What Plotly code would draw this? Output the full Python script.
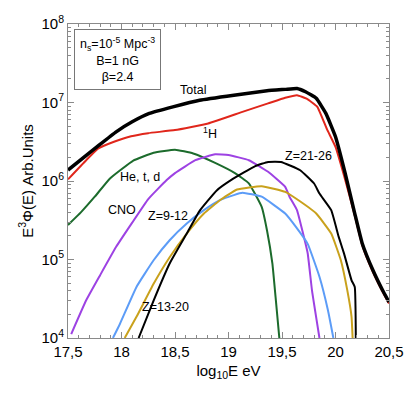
import plotly.graph_objects as go

# (x = log10 E, y = E^3 Phi in arb. units)
total_x = [17.5, 17.79, 17.95, 18.10, 18.26, 18.48, 18.73, 19.05, 19.36, 19.53, 19.64, 19.72,
           19.82, 19.91, 20.0, 20.09, 20.18, 20.25, 20.35, 20.44, 20.5]
total_y = [1.38e6, 2.86e6, 4.23e6, 5.68e6, 7.26e6, 8.81e6, 1.07e7, 1.24e7, 1.41e7, 1.47e7, 1.51e7, 1.37e7,
           1.13e7, 7.26e6, 3.66e6, 1.26e6, 3.85e5, 1.60e5, 7.28e4, 4.05e4, 2.87e4]

h_x = [17.5, 17.67, 17.78, 17.93, 18.09, 18.25, 18.5, 18.81, 19.13, 19.37, 19.53, 19.64, 19.73,
       19.83, 19.92, 20.0, 20.08, 20.18, 20.25, 20.35, 20.44, 20.5]
h_y = [1.05e6, 1.84e6, 2.59e6, 3.16e6, 3.72e6, 4.07e6, 4.45e6, 5.41e6, 7.60e6, 9.75e6, 1.15e7, 1.24e7, 1.12e7,
       8.81e6, 4.57e6, 2.72e6, 1.17e6, 3.63e5, 1.51e5, 6.92e4, 3.89e4, 2.75e4]

he_x = [17.5, 17.62, 17.75, 17.89, 18.0, 18.11, 18.3, 18.5, 18.67, 18.875, 19.06, 19.19, 19.31,
        19.36, 19.41, 19.44, 19.475]
he_y = [2.75e5, 3.98e5, 6.31e5, 1.07e6, 1.41e6, 1.82e6, 2.29e6, 2.51e6, 2.24e6, 1.70e6, 1.26e6, 9.33e5, 4.68e5,
        2.34e5, 8.91e4, 3.31e4, 1.0e4]

cno_x = [17.53, 17.67, 17.8, 17.95, 18.1, 18.25, 18.42, 18.5, 18.69, 18.875, 19.0, 19.19, 19.37,
         19.53, 19.57, 19.64, 19.69, 19.74, 19.78, 19.85]
cno_y = [1.12e4, 3.02e4, 6.31e4, 1.45e5, 2.95e5, 5.89e5, 1.02e6, 1.26e6, 1.84e6, 2.19e6, 2.14e6, 1.84e6, 1.31e6,
         8.41e5, 6.31e5, 4.27e5, 2.34e5, 1.20e5, 4.07e4, 1.0e4]

z912_x = [17.92, 17.985, 18.14, 18.30, 18.45, 18.61, 18.77, 18.92, 19.05, 19.13, 19.31, 19.53, 19.63, 19.74,
          19.85, 19.93, 19.98]
z912_y = [1.0e4, 1.51e4, 4.47e4, 9.77e4, 1.76e5, 2.87e5, 4.25e5, 5.69e5, 6.61e5, 7.08e5, 6.31e5, 3.85e5, 2.60e5,
          1.58e5, 6.03e4, 2.24e4, 1.0e4]

z1320_x = [18.03, 18.14, 18.30, 18.45, 18.61, 18.77, 18.92, 19.08, 19.31, 19.53, 19.63, 19.82, 19.96,
           20.05, 20.11, 20.15, 20.16]
z1320_y = [1.0e4, 1.86e4, 4.90e4, 1.07e5, 2.14e5, 3.85e5, 5.69e5, 7.80e5, 8.59e5, 7.26e5, 5.98e5, 3.85e5, 2.14e5,
           9.77e4, 4.07e4, 1.86e4, 1.0e4]

z2126_x = [18.16, 18.30, 18.45, 18.61, 18.73, 18.89, 19.03, 19.25, 19.37, 19.49, 19.67, 19.80,
           19.85, 19.96, 20.03, 20.08, 20.15, 20.18, 20.19]
z2126_y = [1.0e4, 3.0e4, 8.9e4, 2.14e5, 4.17e5, 7.59e5, 1.04e6, 1.55e6, 1.75e6, 1.75e6, 1.37e6, 9.29e5,
           6.92e5, 4.25e5, 1.94e5, 1.19e5, 5.43e4, 4.47e4, 9.0e3]

x_tickvals = [17.5, 18, 18.5, 19, 19.5, 20, 20.5]
x_ticktext = ["17,5", "18", "18,5", "19", "19,5", "20", "20,5"]
y_tickvals = [1e4, 1e5, 1e6, 1e7, 1e8]
y_ticktext = ["10<sup>4</sup>", "10<sup>5</sup>", "10<sup>6</sup>", "10<sup>7</sup>", "10<sup>8</sup>"]


def curve(x, y, color, width):
    return go.Scatter(x=x, y=y, mode="lines", line=dict(color=color, width=width, shape="spline", smoothing=0.35),
                      showlegend=False, hoverinfo="skip")


fig = go.Figure()
fig.add_trace(curve(he_x, he_y, "#1c6b2c", 2))
fig.add_trace(curve(cno_x, cno_y, "#9d42e3", 2))
fig.add_trace(curve(z912_x, z912_y, "#5c9cf7", 2))
fig.add_trace(curve(z1320_x, z1320_y, "#c9a11c", 2))
fig.add_trace(curve(z2126_x, z2126_y, "#000000", 2))
fig.add_trace(curve(h_x, h_y, "#e0261b", 2))
fig.add_trace(curve(total_x, total_y, "#000000", 3.5))

labels = [
    (18.67, 7.16, "Total"),
    (18.83, 6.61, "<sup>1</sup>H"),
    (18.17, 6.05, "He, t, d"),
    (18.0, 5.63, "CNO"),
    (18.43, 5.56, "Z=9-12"),
    (18.41, 4.39, "Z=13-20"),
    (19.75, 6.32, "Z=21-26"),
]
for lx, ly, txt in labels:
    fig.add_annotation(x=lx, y=ly, text=txt, showarrow=False, font=dict(size=12.5, color="black"))

fig.add_annotation(
    xref="paper", yref="paper", x=0.019, y=0.984, xanchor="left", yanchor="top",
    text="n<sub>s</sub>=10<sup>-5</sup> Mpc<sup>-3</sup><br>B=1 nG<br>β=2.4",
    showarrow=False, align="center", font=dict(size=12.5, color="black"),
    bordercolor="#777777", borderwidth=1, borderpad=5, bgcolor="white",
)

axis_common = dict(
    showline=True, linecolor="#8a8a8a", linewidth=1, mirror="allticks",
    ticks="inside", tickcolor="#8a8a8a", showgrid=False, zeroline=False,
    tickfont=dict(size=15, color="black"), automargin=False,
)

fig.update_xaxes(
    range=[17.5, 20.5], tickmode="array", tickvals=x_tickvals, ticktext=x_ticktext, ticklen=6,
    minor=dict(ticks="inside", ticklen=3, tickmode="linear", tick0=17.5, dtick=0.1, tickcolor="#8a8a8a"),
    title=dict(text="log<sub>10</sub>E eV", font=dict(size=15, color="black"), standoff=6),
    **axis_common,
)
fig.update_yaxes(
    type="log", range=[4, 8], tickmode="array", tickvals=y_tickvals, ticktext=y_ticktext, ticklen=6,
    minor=dict(ticks="inside", ticklen=3, dtick="D1", tickcolor="#8a8a8a"),
    title=dict(text="E<sup>3</sup>Φ(E) Arb.Units", font=dict(size=15, color="black"), standoff=4),
    **axis_common,
)

# the page body adds 8px around the figure, so the figure is sized to fit inside the window
fig.update_layout(
    width=407, height=386,
    margin=dict(l=60, r=26, t=16, b=56),
    paper_bgcolor="white", plot_bgcolor="white",
    font=dict(family="Liberation Sans, Arial, sans-serif", color="black"),
)

fig.write_html("out.html")
